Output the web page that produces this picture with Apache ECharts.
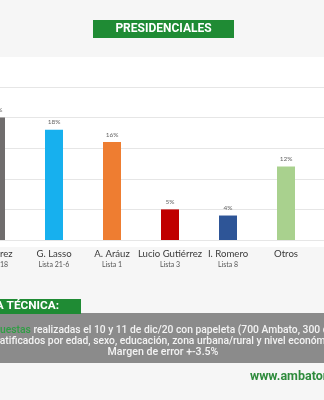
<!DOCTYPE html>
<html><head><meta charset="utf-8">
<script src="https://cdn.jsdelivr.net/npm/echarts@6/dist/echarts.min.js"></script>
<style>html,body{margin:0;padding:0;background:#f6f6f6;}#c{width:324px;height:400px;}</style>
</head><body><div id="c"></div>
<script>
const categories = ['Y. Pérez', 'G. Lasso', 'A. Aráuz', 'Lucio Gutiérrez', 'I. Romero', 'Otros'];
const lists = ['Lista 18', 'Lista 21-6', 'Lista 1', 'Lista 3', 'Lista 8', ''];
const values = [20, 18, 16, 5, 4, 12];
const colors = ['#706d6d', '#17b0ee', '#ee7d31', '#c00000', '#2e5597', '#a9d18e'];
const yTicks = [0, 5, 10, 15, 20, 25];

const line1Hidden = 'Enc';
const line1Green = 'uestas';
const line1Rest = ' realizadas el 10 y 11 de dic/20 con papeleta (700 Ambato, 300 cantones)';
const line2Hidden = 'Estr';
const line2Text = 'atificados por edad, sexo, educación, zona urbana/rural y nivel económico';
const line3Text = 'Margen de error +-3.5%';

const bodyFont = '500 10.3px Roboto';
const cv = document.createElement('canvas').getContext('2d');
cv.font = bodyFont;
const w1 = cv.measureText(line1Hidden).width;
const w2 = cv.measureText(line2Hidden).width;

const chart = echarts.init(document.getElementById('c'));
chart.setOption({
  backgroundColor: '#f6f6f6',
  animation: false,
  grid: [
    {left: -33, top: 87, width: 348, height: 153, outerBoundsMode: 'none', containLabel: false},
    {left: 0, right: 0, top: 87, height: 153, outerBoundsMode: 'none', containLabel: false}
  ],
  xAxis: [
    {type: 'category', data: categories, gridIndex: 0,
     axisLine: {show: false}, axisTick: {show: false},
     axisLabel: {interval: 0, margin: 7, hideOverlap: false,
       formatter: (v, i) => lists[i] ? '{n|' + v + '}\n{s|' + lists[i] + '}' : '{n|' + v + '}\n{s| }',
       rich: {
         n: {fontFamily: 'Lato', fontSize: 9.6, color: '#3a3a3a', lineHeight: 13},
         s: {fontFamily: 'Lato', fontSize: 7, color: '#555', lineHeight: 10}
       }}},
    {type: 'value', gridIndex: 1, show: false, min: 0, max: 1}
  ],
  yAxis: [
    {type: 'value', gridIndex: 0, min: 0, max: 25, interval: 5, show: false},
    {type: 'value', gridIndex: 1, min: yTicks[0], max: yTicks[yTicks.length - 1], interval: 5,
     axisLine: {show: false}, axisTick: {show: false}, axisLabel: {show: false},
     splitLine: {lineStyle: {color: '#e6e6e6', width: 1}}}
  ],
  series: [{
    type: 'bar', xAxisIndex: 0, yAxisIndex: 0, barWidth: 18,
    data: values.map((v, i) => ({value: v, itemStyle: {color: colors[i]}})),
    label: {show: true, position: 'top', distance: 4, formatter: '{c}%',
      fontFamily: 'Lato', fontSize: 6.5, color: '#666'}
  }],
  graphic: [
    {type: 'rect', z: -100, shape: {x: 0, y: 57, width: 324, height: 190}, style: {fill: '#ffffff'}},
    {type: 'rect', z: 10, shape: {x: 93, y: 20, width: 141, height: 18}, style: {fill: '#1f8b34'}},
    {type: 'text', z: 11, x: 163.5, y: 29, style: {text: 'PRESIDENCIALES', fill: '#ffffff',
      font: 'bold 12px Roboto', textAlign: 'center', textVerticalAlign: 'middle'}},
    {type: 'rect', z: 10, shape: {x: 0, y: 313, width: 324, height: 50}, style: {fill: '#8b8b8b'}},
    {type: 'rect', z: 10, shape: {x: 0, y: 299, width: 81, height: 15}, style: {fill: '#1f8b34'}},
    {type: 'text', z: 11, x: 59, y: 306.5, style: {text: 'FICHA TÉCNICA:', fill: '#ffffff',
      font: 'bold 11.8px Roboto', textAlign: 'right', textVerticalAlign: 'middle'}},
    {type: 'text', z: 11, x: -w1, y: 330, style: {
      text: '{g|' + line1Hidden + line1Green + '}' + line1Rest,
      rich: {g: {fill: '#2f9e44', font: bodyFont}},
      fill: '#f3f3f3', font: bodyFont, textAlign: 'left', textVerticalAlign: 'middle'}},
    {type: 'text', z: 11, x: -w2, y: 341, style: {
      text: line2Hidden + line2Text,
      fill: '#f3f3f3', font: bodyFont, textAlign: 'left', textVerticalAlign: 'middle'}},
    {type: 'text', z: 11, x: 163, y: 352, style: {
      text: line3Text,
      fill: '#f3f3f3', font: '500 10.6px Roboto', textAlign: 'center', textVerticalAlign: 'middle'}},
    {type: 'text', z: 11, x: 250, y: 377, style: {
      text: 'www.ambatoradio.com', fill: '#2e8b3c', font: 'bold 12.5px Roboto',
      textAlign: 'left', textVerticalAlign: 'middle'}}
  ]
});
</script></body></html>
